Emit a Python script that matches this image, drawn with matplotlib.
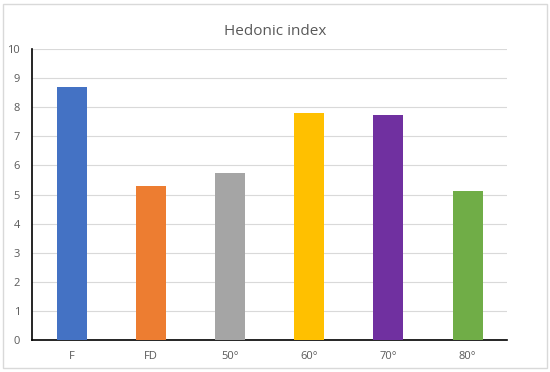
import matplotlib.pyplot as plt
from matplotlib.patches import Rectangle

# ====== データ ======
categories = ["F", "FD", "50°", "60°", "70°", "80°"]
values = [8.7, 5.3, 5.75, 7.8, 7.72, 5.12]
colors = ["#4472c4", "#ed7d31", "#a5a5a5", "#ffc000", "#7030a0", "#70ad47"]

plt.rcParams['font.family'] = ['Open Sans', 'DejaVu Sans']

fig = plt.figure(figsize=(5.5, 3.72), dpi=100)
fig.patches.append(Rectangle((0.006, 0.012), 0.988, 0.976, transform=fig.transFigure,
                             fill=False, edgecolor="#d9d9d9", linewidth=1))
ax = fig.add_axes([0.059, 0.086, 0.863, 0.782])

x = range(len(categories))
ax.bar(x, values, width=0.38, color=colors, zorder=3)

ax.set_xlim(-0.5, len(categories) - 0.5)
ax.set_ylim(0, 10)
ax.set_yticks(range(0, 11))
ax.set_xticks(list(x))
ax.set_xticklabels(categories)
ax.tick_params(axis='both', length=0, colors="#595959", labelsize=8)
ax.tick_params(axis='x', pad=8)
ax.tick_params(axis='y', pad=9)
ax.grid(axis='y', color="#d9d9d9", linewidth=0.8, zorder=0)

for s in ["top", "right"]:
    ax.spines[s].set_visible(False)
for s in ["left", "bottom"]:
    ax.spines[s].set_color("black")
    ax.spines[s].set_linewidth(1.2)

fig.text(0.5, 0.915, "Hedonic index", ha="center", va="center", fontsize=11, color="#595959")

fig.savefig("out.png", dpi=100)
